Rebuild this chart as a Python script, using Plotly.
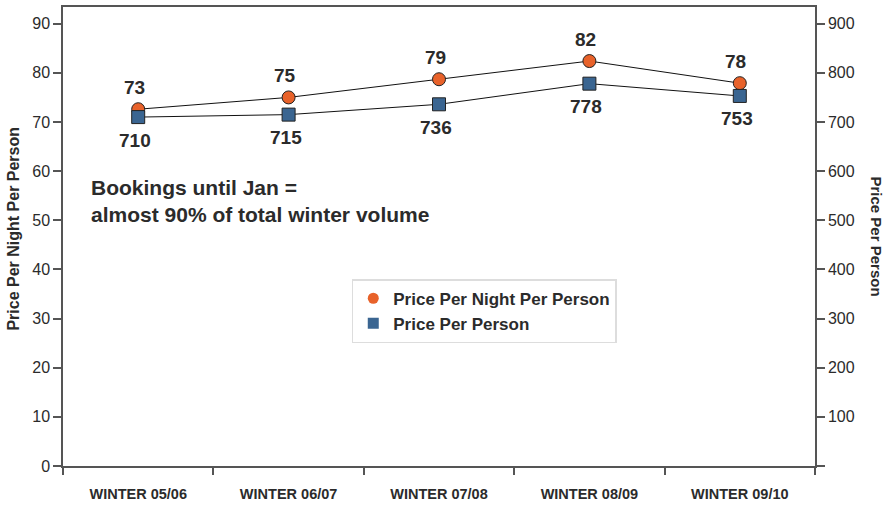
import plotly.graph_objects as go

# Winter seasons and price series
seasons = ["WINTER 05/06", "WINTER 06/07", "WINTER 07/08", "WINTER 08/09", "WINTER 09/10"]
price_per_night = [72.6, 75.0, 78.7, 82.4, 77.9]
price_per_person = [710, 715, 736, 778, 753]

left_ticks = [0, 10, 20, 30, 40, 50, 60, 70, 80, 90]
right_ticks = [100, 200, 300, 400, 500, 600, 700, 800, 900]

FONT = "Liberation Sans, Arial, Helvetica, sans-serif"
ORANGE = "#E8622A"
BLUE = "#3A6591"
AXIS = "#555555"
TEXT = "#2b2b2b"

fig = go.Figure()

fig.add_trace(go.Scatter(
    x=seasons, y=price_per_night, mode="lines+markers",
    line=dict(color="#111111", width=1),
    marker=dict(symbol="circle", size=13, color=ORANGE, line=dict(color="#222222", width=1)),
    showlegend=False, cliponaxis=False,
))

fig.add_trace(go.Scatter(
    x=seasons, y=price_per_person, mode="lines+markers", yaxis="y2",
    line=dict(color="#111111", width=1),
    marker=dict(symbol="square", size=13, color=BLUE, line=dict(color="#222222", width=1)),
    showlegend=False, cliponaxis=False,
))

# Legend entries show markers only
fig.add_trace(go.Scatter(
    x=[None], y=[None], mode="markers", name="<b>Price Per Night Per Person</b>",
    marker=dict(symbol="circle", size=11, color=ORANGE),
))
fig.add_trace(go.Scatter(
    x=[None], y=[None], mode="markers", name="<b>Price Per Person</b>",
    marker=dict(symbol="square", size=11, color=BLUE),
))

annotations = []
# value labels: nightly price above the circles, per-person price below the squares
for s, v in zip(seasons, price_per_night):
    annotations.append(dict(
        x=s, y=v, xref="x", yref="y", text=f"<b>{v:.0f}</b>", showarrow=False,
        yshift=22, xshift=-4, font=dict(family=FONT, size=19, color=TEXT)))
for s, v in zip(seasons, price_per_person):
    annotations.append(dict(
        x=s, y=v, xref="x", yref="y2", text=f"<b>{v}</b>", showarrow=False,
        yshift=-23, xshift=-3, font=dict(family=FONT, size=19, color=TEXT)))

annotations += [
    dict(text="<b>Bookings until Jan =<br>almost 90% of total winter volume</b>",
         xref="paper", yref="paper", x=(89 - 63) / 752, y=(469 - 201) / 464,
         xanchor="left", yanchor="middle", align="left", showarrow=False,
         font=dict(family=FONT, size=21, color=TEXT)),
    dict(text="<b>Price Per Night Per Person</b>", xref="paper", yref="paper",
         x=-(63 - 14) / 752, y=(469 - 229) / 464, textangle=-90,
         xanchor="center", yanchor="middle", showarrow=False,
         font=dict(family=FONT, size=16, color=TEXT)),
    dict(text="<b>Price Per Person</b>", xref="paper", yref="paper",
         x=1 + (876 - 815) / 752, y=(469 - 237) / 464, textangle=90,
         xanchor="center", yanchor="middle", showarrow=False,
         font=dict(family=FONT, size=15, color=TEXT)),
]

fig.update_layout(
    width=888, height=507,
    margin=dict(l=63, r=73, t=5, b=37),
    paper_bgcolor="white", plot_bgcolor="white",
    font=dict(family=FONT, color=TEXT),
    xaxis=dict(
        type="category", range=[-0.5, 4.5], tickson="boundaries",
        ticks="outside", ticklen=7, tickcolor=AXIS, tickwidth=1.5,
        showline=True, linecolor=AXIS, linewidth=1.5, mirror=True,
        showgrid=False, zeroline=False,
        tickfont=dict(family=FONT, size=14.5, color=TEXT),
        ticklabelstandoff=14,
        tickvals=seasons, ticktext=[f"<b>{s}</b>" for s in seasons],
    ),
    yaxis=dict(
        range=[0, 93.4], tickvals=left_ticks, ticks="outside", ticklen=8,
        tickcolor=AXIS, tickwidth=1.5,
        showline=True, linecolor=AXIS, linewidth=1.5,
        showgrid=False, zeroline=False,
        tickfont=dict(family=FONT, size=16, color=TEXT),
    ),
    yaxis2=dict(
        range=[0, 934], tickvals=[0] + right_ticks,
        ticktext=[""] + [str(v) for v in right_ticks],
        overlaying="y", side="right", ticks="outside", ticklen=8,
        tickcolor=AXIS, tickwidth=1.5,
        showline=True, linecolor=AXIS, linewidth=1.5,
        showgrid=False, zeroline=False,
        tickfont=dict(family=FONT, size=16, color=TEXT),
    ),
    legend=dict(
        x=0.384, y=0.407, xanchor="left", yanchor="top",
        bordercolor="#dddddd", borderwidth=1.5, bgcolor="white",
        font=dict(family=FONT, size=17, color=TEXT),
        itemwidth=30, tracegroupgap=0,
    ),
    annotations=annotations,
)

fig.write_html("out.html")
